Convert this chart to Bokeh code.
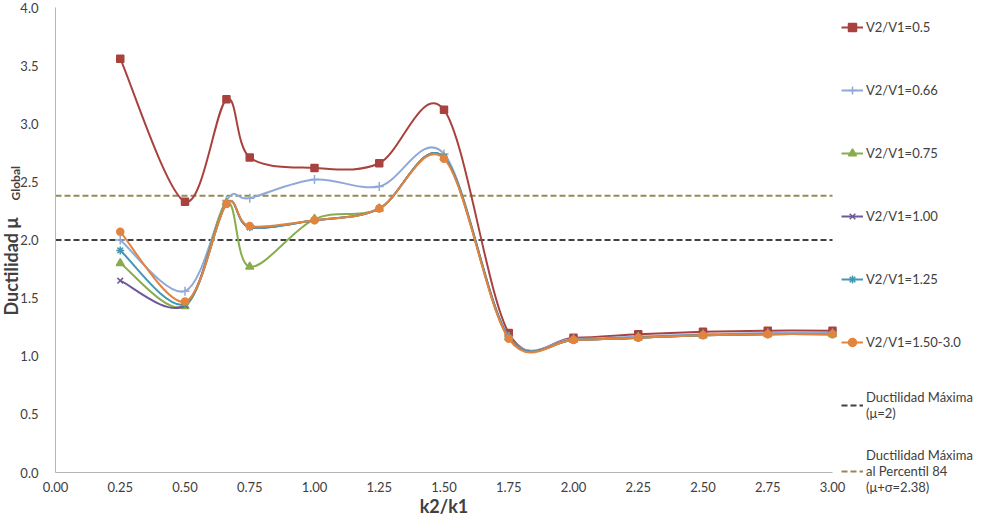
import numpy as np
from bokeh.plotting import figure
from bokeh.models import (Legend, LegendItem, Label, FixedTicker, NumeralTickFormatter,
                          Range1d, ColumnDataSource, LinearAxis)
from bokeh.embed import file_html
from bokeh.resources import INLINE

# ---------------- data ----------------
k_ratio = [0.25, 0.5, 0.66, 0.75, 1.0, 1.25, 1.5, 1.75, 2.0, 2.25, 2.5, 2.75, 3.0]

v_050 = [3.56, 2.33, 3.21, 2.71, 2.62, 2.66, 3.12, 1.20, 1.16, 1.19, 1.21, 1.22, 1.22]
v_066 = [2.00, 1.56, 2.34, 2.36, 2.52, 2.46, 2.74, 1.17, 1.15, 1.17, 1.19, 1.20, 1.20]
v_075 = [1.80, 1.43, 2.32, 1.77, 2.18, 2.27, 2.71, 1.16, 1.14, 1.16, 1.18, 1.19, 1.19]
v_100 = [1.65, 1.44, 2.31, 2.11, 2.17, 2.27, 2.71, 1.16, 1.14, 1.16, 1.18, 1.19, 1.19]
v_125 = [1.91, 1.45, 2.31, 2.11, 2.17, 2.27, 2.71, 1.16, 1.14, 1.16, 1.18, 1.19, 1.19]
v_150 = [2.07, 1.47, 2.31, 2.12, 2.17, 2.27, 2.70, 1.15, 1.14, 1.16, 1.18, 1.19, 1.19]

series_names = ["V2/V1=0.5", "V2/V1=0.66", "V2/V1=0.75", "V2/V1=1.00",
                "V2/V1=1.25", "V2/V1=1.50-3.0"]
series_values = [v_050, v_066, v_075, v_100, v_125, v_150]

mu_max = 2.0
mu_p84 = 2.38
limit_names = ["Ductilidad Máxima\n(μ=2)",
               "Ductilidad Máxima\nal Percentil 84\n(μ+σ=2.38)"]

x_ticks = [0.0, 0.25, 0.5, 0.75, 1.0, 1.25, 1.5, 1.75, 2.0, 2.25, 2.5, 2.75, 3.0]
y_ticks = [0.0, 0.5, 1.0, 1.5, 2.0, 2.5, 3.0, 3.5, 4.0]

# ---------------- layout (pixels) ----------------
W, H = 975, 515
AX_LEFT, AX_RIGHT = 55, 832      # plot-area x=0 / x=3 (figure px)
AX_TOP, AX_BOTTOM = 7, 472       # plot-area y=4 / y=0 (figure px)
ppx = (AX_RIGHT - AX_LEFT) / (x_ticks[-1] - x_ticks[0])
ppy = (AX_BOTTOM - AX_TOP) / (y_ticks[-1] - y_ticks[0])
x_lo = x_ticks[0] - AX_LEFT / ppx
x_hi = x_ticks[-1] + (W - AX_RIGHT) / ppx
y_hi = y_ticks[-1] + AX_TOP / ppy
y_lo = y_ticks[0] - (H - AX_BOTTOM) / ppy

# ---------------- style ----------------
FONT = "Lato"
TXT = "#404040"
colors = ["#A9423F", "#8FAAD6", "#88AD4B", "#71569A", "#4398B3", "#E3843E"]
markers = ["square", "cross", "triangle", "x", "asterisk", "circle"]
msizes = [7, 9, 8, 8, 8, 7]

p = figure(width=W, height=H, output_backend="svg", toolbar_location=None,
           x_range=Range1d(x_lo, x_hi), y_range=Range1d(y_lo, y_hi),
           x_axis_location=None, y_axis_location=None,
           min_border_left=0, min_border_right=0, min_border_top=0, min_border_bottom=0)
p.outline_line_color = None
p.grid.visible = False
p.background_fill_color = "white"
p.border_fill_color = "white"

xaxis = LinearAxis(fixed_location=0, bounds=(x_ticks[0], x_ticks[-1]),
                   ticker=FixedTicker(ticks=x_ticks),
                   formatter=NumeralTickFormatter(format="0.00"))
yaxis = LinearAxis(fixed_location=0, bounds=(y_ticks[0], y_ticks[-1]),
                   ticker=FixedTicker(ticks=y_ticks),
                   formatter=NumeralTickFormatter(format="0.0"))
for ax in (xaxis, yaxis):
    ax.axis_line_color = "#B5B5B5"
    ax.axis_line_width = 1
    ax.major_tick_line_color = None
    ax.minor_tick_line_color = None
    ax.major_label_text_font = FONT
    ax.major_label_text_font_size = "13px"
    ax.major_label_text_color = TXT
xaxis.major_label_standoff = 3
yaxis.major_label_standoff = 11
xaxis.axis_label = "k2/k1"
xaxis.axis_label_text_font = FONT
xaxis.axis_label_text_font_size = "18px"
xaxis.axis_label_text_font_style = "bold"
xaxis.axis_label_text_color = TXT
xaxis.axis_label_standoff = 0
p.add_layout(xaxis, "below")
p.add_layout(yaxis, "left")


def bezier_segments(xs, ys):
    """Excel-like smoothed line: cubic Bezier between consecutive points."""
    x = np.asarray(xs, float)
    y = np.asarray(ys, float)
    n = len(x)
    xp = np.concatenate([[x[0]], x, [x[-1]]])
    yp = np.concatenate([[y[0]], y, [y[-1]]])
    i = np.arange(n - 1)
    x0, y0 = x[:-1], y[:-1]
    x1, y1 = x[1:], y[1:]
    cx0 = x0 + (xp[i + 2] - xp[i]) / 6.0
    cy0 = y0 + (yp[i + 2] - yp[i]) / 6.0
    cx1 = x1 - (xp[i + 3] - xp[i + 1]) / 6.0
    cy1 = y1 - (yp[i + 3] - yp[i + 1]) / 6.0
    return dict(x0=x0, y0=y0, x1=x1, y1=y1, cx0=cx0, cy0=cy0, cx1=cx1, cy1=cy1)


# limit lines
lim_vals = [mu_max, mu_p84]
lim_cols = ["#404040", "#948A54"]
lim_renderers = []
for val, col in zip(lim_vals, lim_cols):
    r = p.line(x=[x_ticks[0], x_ticks[-1]], y=[val, val], line_color=col,
               line_width=2, line_dash="6 3")
    lim_renderers.append(r)

items = []
for name, vals, col, mk, ms in zip(series_names, series_values, colors, markers, msizes):
    src = ColumnDataSource(bezier_segments(k_ratio, vals))
    bz = p.bezier(x0="x0", y0="y0", x1="x1", y1="y1", cx0="cx0", cy0="cy0", cx1="cx1",
                  cy1="cy1", source=src, line_color=col, line_width=2)
    sc = p.scatter(x=k_ratio, y=vals, marker=mk, size=ms, fill_color=col, line_color=col,
                   line_width=1.5)
    items.append(LegendItem(label=name, renderers=[bz, sc]))

for name, r in zip(limit_names, lim_renderers):
    items.append(LegendItem(label=name, renderers=[r]))

legend = Legend(items=items, location=(AX_RIGHT + 9, 20), border_line_color=None,
                background_fill_alpha=0, padding=0, margin=0, spacing=22,
                glyph_width=22, glyph_height=20, label_height=41, label_standoff=3,
                label_text_font=FONT, label_text_font_size="13px", label_text_color=TXT)
p.add_layout(legend)

# y axis title with subscript
p.add_layout(Label(x=x_ticks[0] - 45 / ppx, y=1.35, text="Ductilidad μ", angle=np.pi / 2,
                   text_align="left", text_baseline="middle", text_font=FONT,
                   text_font_size="18px", text_font_style="bold", text_color=TXT))
p.add_layout(Label(x=x_ticks[0] - 40 / ppx, y=2.34, text="Global", angle=np.pi / 2,
                   text_align="left", text_baseline="middle", text_font=FONT,
                   text_font_size="12px", text_font_style="bold", text_color=TXT))

open("out.html", "w").write(file_html(p, INLINE))
